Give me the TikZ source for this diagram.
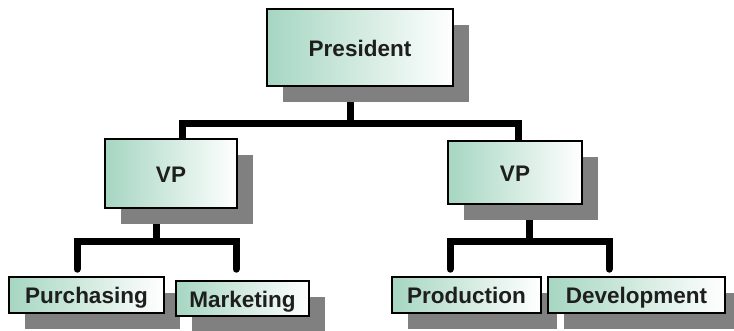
\documentclass[tikz,border=0pt]{standalone}
\usepackage{fontspec}
\setmainfont{Liberation Sans}
\usetikzlibrary{shadows}
\definecolor{mint}{RGB}{166,214,194}
\definecolor{shadowgray}{RGB}{128,128,128}
\definecolor{ink}{RGB}{30,30,30}
\pgfdeclarelayer{paper}
\pgfdeclarelayer{bg}
\pgfsetlayers{paper,bg,main}
\begin{document}
\begin{tikzpicture}[x=1pt,y=-1pt,
  box/.style={draw=black, line width=1.6pt, left color=mint, right color=white,
    inner sep=0pt, font=\fontsize{22.5}{26}\selectfont\bfseries, text=ink,
    text height=17.5pt, text depth=0pt,
    drop shadow={shadow xshift=16pt, shadow yshift=-16pt, fill=shadowgray, opacity=1, draw=none}},
  conn/.style={draw=black, line width=7pt, line join=miter},
  leaf/.style={conn, line cap=round}]
\useasboundingbox (0,0) rectangle (734,330);
\begin{pgfonlayer}{paper}
  \fill[white] (0,0) rectangle (734,330);
\end{pgfonlayer}

\node[box, minimum width=186pt, minimum height=77pt] (pres) at (360,47.5) {President};
\node[box, minimum width=132pt, minimum height=69pt] (vp1) at (171,173.5) {VP};
\node[box, minimum width=134pt, minimum height=63pt] (vp2) at (515,172.5) {VP};
\node[box, minimum width=155pt, minimum height=36pt] (purch) at (86.5,295) {Purchasing};
\node[box, minimum width=133pt, minimum height=35pt] (mkt) at (242.5,298.5) {Marketing};
\node[box, minimum width=149pt, minimum height=36pt] (prod) at (466.5,295) {Production};
\node[box, minimum width=177pt, minimum height=36pt] (dev) at (636.5,295) {Development};

\coordinate (j1) at (350.5,123);
\coordinate (j2) at (156,241);
\coordinate (j3) at (529,241);

\begin{pgfonlayer}{bg}
  \draw[conn] ([xshift=-9.5pt]pres.south) -- (j1);
  \draw[conn] ([xshift=11.5pt]vp1.north) |- (j1) -| ([xshift=3.5pt]vp2.north);
  \draw[conn] ([xshift=-15pt]vp1.south) -- (j2);
  \draw[leaf] ([xshift=-9.5pt,yshift=7pt]purch.north) |- (j2) -| ([xshift=-6.5pt,yshift=11pt]mkt.north);
  \draw[conn] ([xshift=14pt]vp2.south) -- (j3);
  \draw[leaf] ([xshift=-16.5pt,yshift=7pt]prod.north) |- (j3) -| ([xshift=-27.5pt,yshift=7pt]dev.north);
\end{pgfonlayer}
\end{tikzpicture}
\end{document}
